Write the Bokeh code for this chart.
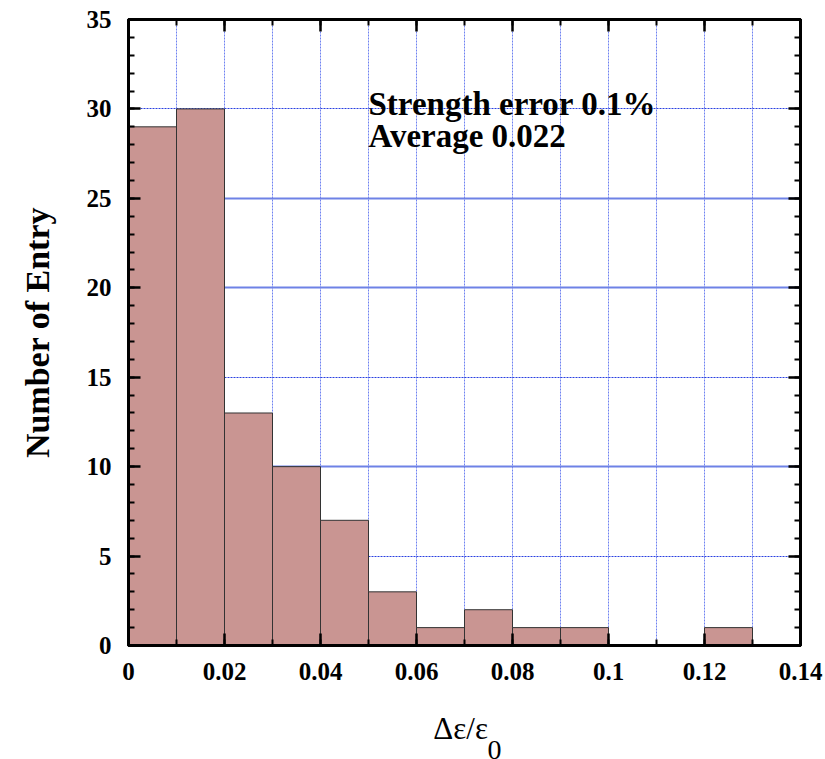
from bokeh.plotting import figure
from bokeh.models import (FixedTicker, LinearAxis, Grid, Range1d, Title)
from bokeh.core.properties import value
from bokeh.embed import file_html
from bokeh.resources import INLINE

# Data
bin_left = [0.00, 0.01, 0.02, 0.03, 0.04, 0.05, 0.06, 0.07, 0.08, 0.09, 0.10, 0.11, 0.12]
bin_right = [0.01, 0.02, 0.03, 0.04, 0.05, 0.06, 0.07, 0.08, 0.09, 0.10, 0.11, 0.12, 0.13]
counts = [29, 30, 13, 10, 7, 3, 1, 2, 1, 1, 0, 0, 1]
x_ticks = [0, 0.02, 0.04, 0.06, 0.08, 0.10, 0.12, 0.14]
x_tick_labels = ["0", "0.02", "0.04", "0.06", "0.08", "0.1", "0.12", "0.14"]
y_ticks = [0, 5, 10, 15, 20, 25, 30, 35]
x_minor = [0.01 * i for i in range(15)]
y_minor = list(range(36))
grid_solid_y = [10, 20, 25]
grid_dot_y = [5, 15, 30]
notes = ["Strength error 0.1%", "Average 0.022"]

FONT = "Liberation Serif"

p = figure(width=825, height=759, output_backend="svg", toolbar_location=None,
           x_range=Range1d(0, 0.14), y_range=Range1d(0, 35),
           min_border_left=128, min_border_right=25, min_border_top=19,
           min_border_bottom=114, x_axis_location=None, y_axis_location=None)
p.outline_line_color = "black"
p.outline_line_width = 3
p.background_fill_color = "white"
p.border_fill_color = "white"

# grids
p.xgrid.visible = False
p.ygrid.visible = False
vgrid = Grid(dimension=0, ticker=FixedTicker(ticks=x_minor[1:-1]),
             grid_line_color="#4a62ee", grid_line_width=1, grid_line_dash="2 1", grid_line_alpha=0.8)
hgrid1 = Grid(dimension=1, ticker=FixedTicker(ticks=grid_solid_y),
              grid_line_color="#6e82e6", grid_line_width=2)
hgrid2 = Grid(dimension=1, ticker=FixedTicker(ticks=grid_dot_y),
              grid_line_color="#2a40e0", grid_line_width=1, grid_line_dash="2 1")
p.add_layout(vgrid)
p.add_layout(hgrid1)
p.add_layout(hgrid2)

bottoms = [0] * len(counts)
p.quad(left=bin_left, right=bin_right, top=counts, bottom=bottoms,
       fill_color="#c99592", line_color="#333333", line_width=1)

def style_axis(ax, labels=True):
    ax.axis_line_color = "black"
    ax.axis_line_width = 3
    ax.major_tick_in = 12
    ax.major_tick_out = 0
    ax.minor_tick_in = 6
    ax.minor_tick_out = 0
    ax.major_tick_line_width = 2.5
    ax.minor_tick_line_width = 2
    ax.major_label_text_font = FONT
    ax.major_label_text_font_style = "bold"
    ax.major_label_text_font_size = "25px"
    ax.major_label_text_color = "black"
    if not labels:
        ax.major_label_text_font_size = "0px"
        ax.major_label_text_alpha = 0

xb = LinearAxis(ticker=FixedTicker(ticks=x_ticks, minor_ticks=x_minor))
xb.major_label_overrides = {t: l for t, l in zip(x_ticks, x_tick_labels)}
style_axis(xb)
xb.major_label_standoff = 17
xb.axis_label = "\u0394\u03b5/\u03b5\u00a0"
xb.axis_label_text_font = FONT
xb.axis_label_text_font_style = "normal"
xb.axis_label_text_font_size = "31px"
xb.axis_label_text_color = "black"
xb.axis_label_standoff = 28
p.add_layout(xb, "below")

sub = Title(text="0", align="left", offset=359, standoff=-21,
            text_font=FONT, text_font_size="28px", text_font_style="normal",
            text_color="black")
p.add_layout(sub, "below")

xt = LinearAxis(ticker=FixedTicker(ticks=x_ticks, minor_ticks=x_minor))
style_axis(xt, labels=False)
p.add_layout(xt, "above")

yl = LinearAxis(ticker=FixedTicker(ticks=y_ticks, minor_ticks=y_minor))
style_axis(yl)
yl.major_label_standoff = 17
yl.axis_label = "Number of Entry"
yl.axis_label_text_font = FONT
yl.axis_label_text_font_style = "bold"
yl.axis_label_text_font_size = "34px"
yl.axis_label_text_color = "black"
yl.axis_label_standoff = 28
p.add_layout(yl, "left")

yr = LinearAxis(ticker=FixedTicker(ticks=y_ticks, minor_ticks=y_minor))
style_axis(yr, labels=False)
p.add_layout(yr, "right")

# annotations (data coordinates)
p.text(x=[0.05, 0.05], y=[30.3, 28.51], text=notes,
       text_font=value(FONT), text_font_style="bold", text_font_size="33px",
       text_baseline="alphabetic", text_align="left", text_color="black")

open("out.html", "w").write(file_html(p, INLINE))
